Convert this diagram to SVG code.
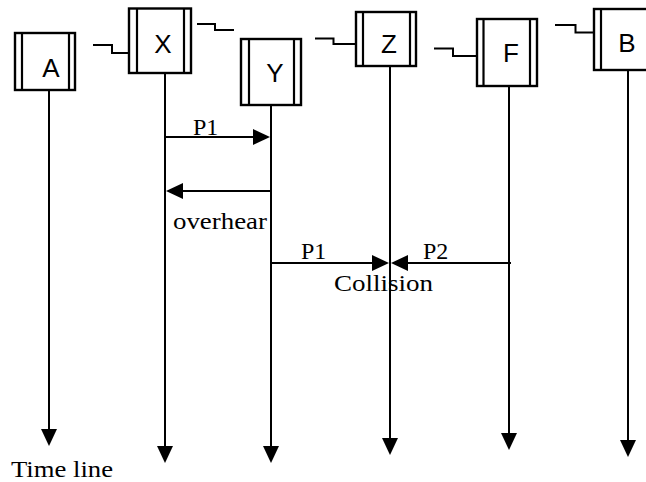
<svg xmlns="http://www.w3.org/2000/svg" width="646" height="482" viewBox="0 0 646 482">
<style>
.box{fill:#fff;stroke:#000;stroke-width:2.4}
.bar{stroke:#000;stroke-width:2.2}
.lbl{font-family:"Liberation Sans",Arial,sans-serif;font-size:26px;fill:#000;text-anchor:middle}
.sq{fill:none;stroke:#000;stroke-width:2}
.life{stroke:#000;stroke-width:2;fill:none}
.msg{stroke:#000;stroke-width:2;fill:none}
.t{font-family:"Liberation Serif","Times New Roman",serif;font-size:24px;fill:#000}
</style>
<defs>
<marker id="ah" viewBox="0 0 17 16" refX="9" refY="8" markerWidth="17" markerHeight="16" markerUnits="userSpaceOnUse" orient="auto">
<path d="M0,0 L17,8 L0,16 z" fill="#000"/>
</marker>
</defs>
<rect width="646" height="482" fill="#fff"/>
<g id="node-A">
<rect class="box" x="15" y="33" width="60" height="57"/>
<line class="bar" x1="22" y1="33" x2="22" y2="90"/>
<line class="bar" x1="69" y1="33" x2="69" y2="90"/>
<text class="lbl" x="51" y="77">A</text>
</g>
<g id="node-X">
<rect class="box" x="129" y="8.5" width="62" height="64.5"/>
<line class="bar" x1="137" y1="8.5" x2="137" y2="73"/>
<line class="bar" x1="184" y1="8.5" x2="184" y2="73"/>
<text class="lbl" x="163" y="53">X</text>
</g>
<g id="node-Y">
<rect class="box" x="241" y="39" width="60" height="66"/>
<line class="bar" x1="249" y1="39" x2="249" y2="105"/>
<line class="bar" x1="294" y1="39" x2="294" y2="105"/>
<text class="lbl" x="275" y="82">Y</text>
</g>
<g id="node-Z">
<rect class="box" x="356" y="12" width="60" height="54"/>
<line class="bar" x1="363" y1="12" x2="363" y2="66"/>
<line class="bar" x1="410" y1="12" x2="410" y2="66"/>
<text class="lbl" x="389" y="53">Z</text>
</g>
<g id="node-F">
<rect class="box" x="477" y="19" width="60" height="67"/>
<line class="bar" x1="483.5" y1="19" x2="483.5" y2="86"/>
<line class="bar" x1="530" y1="19" x2="530" y2="86"/>
<text class="lbl" x="511" y="62">F</text>
</g>
<g id="node-B">
<rect class="box" x="594" y="9" width="62" height="61"/>
<line class="bar" x1="601" y1="9" x2="601" y2="70"/>
<text class="lbl" x="627" y="52">B</text>
</g>
<g id="connectors">
<path class="sq" d="M93,45 H112 V53 H129"/>
<path class="sq" d="M197,24 H215 V30 H234"/>
<path class="sq" d="M315,38.5 H333.5 V44 H356"/>
<path class="sq" d="M434,48.5 H453 V56 H477"/>
<path class="sq" d="M555,25 H575.5 V32.5 H594"/>
<line class="life" x1="49" y1="90" x2="49" y2="438" marker-end="url(#ah)"/>
<line class="life" x1="165" y1="73" x2="165" y2="455" marker-end="url(#ah)"/>
<line class="life" x1="271" y1="105" x2="271" y2="455" marker-end="url(#ah)"/>
<line class="life" x1="390" y1="66" x2="390" y2="447" marker-end="url(#ah)"/>
<line class="life" x1="509" y1="86" x2="509" y2="442" marker-end="url(#ah)"/>
<line class="life" x1="628" y1="70" x2="628" y2="449" marker-end="url(#ah)"/>
<line class="msg" x1="165" y1="137" x2="262" y2="137" marker-end="url(#ah)"/>
<line class="msg" x1="271" y1="191" x2="174" y2="191" marker-end="url(#ah)"/>
<line class="msg" x1="271" y1="263" x2="381" y2="263" marker-end="url(#ah)"/>
<line class="msg" x1="511" y1="263" x2="399" y2="263" marker-end="url(#ah)"/>
<text class="t" x="193" y="135">P1</text>
<text class="t" x="173" y="229" textLength="94" lengthAdjust="spacingAndGlyphs">overhear</text>
<text class="t" x="301" y="259">P1</text>
<text class="t" x="423" y="259">P2</text>
<text class="t" x="334" y="291" textLength="99" lengthAdjust="spacingAndGlyphs">Collision</text>
</g>
<text class="t" x="11" y="477" textLength="102" lengthAdjust="spacingAndGlyphs">Time line</text>
</svg>
